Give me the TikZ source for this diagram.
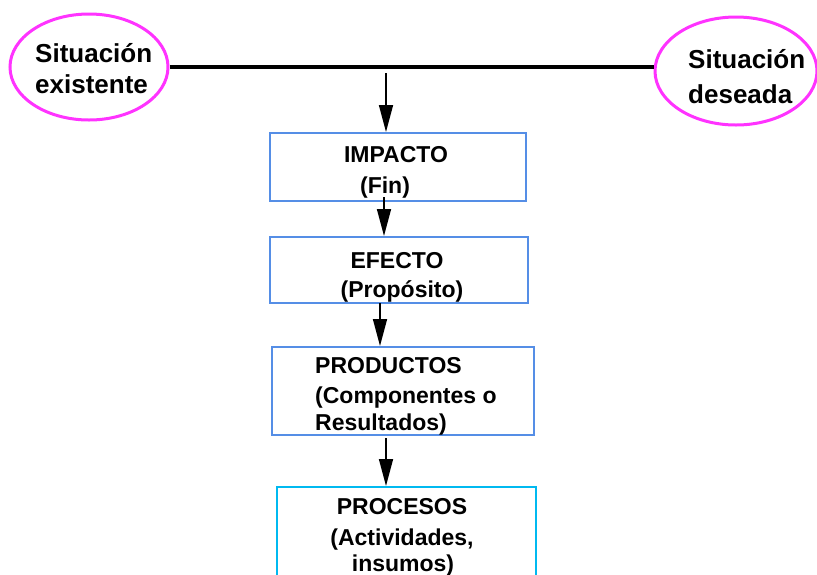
\documentclass[tikz,border=0pt]{standalone}
\usepackage{fontspec}
\setmainfont{Liberation Sans}
\usetikzlibrary{shapes.geometric,arrows.meta}
\definecolor{pinkline}{RGB}{255,51,255}
\definecolor{boxblue}{RGB}{85,142,230}
\definecolor{boxcyan}{RGB}{0,185,240}
\tikzset{
  ell/.style={ellipse, draw=pinkline, line width=3pt, inner sep=0pt},
  stepbox/.style={rectangle, draw=boxblue, line width=2pt, inner sep=0pt},
  txt/.style={inner sep=0pt, font=\bfseries\fontsize{23}{27}\selectfont},
  etxt/.style={inner sep=0pt, font=\bfseries\fontsize{26}{30}\selectfont},
  arr/.style={line width=1.6pt, -{Triangle[length=27pt,width=14pt]}},
}
\begin{document}
\begin{tikzpicture}[x=1pt,y=-1pt]
\useasboundingbox (0,0) rectangle (817,574);
% ellipses
\node[ell, minimum width=158pt, minimum height=106pt] (ex) at (89,67) {};
\node[ell, minimum width=162pt, minimum height=108pt] (ed) at (736,71) {};
\node[etxt, anchor=base west] (ex1) at (35,62) {Situación};
\node[etxt, anchor=base west] (ex2) at (35,93) {existente};
\node[etxt, anchor=base west] (ed1) at (688,68) {Situación};
\node[etxt, anchor=base west] (ed2) at (688,103) {deseada};
% main line
\draw[line width=4pt] (ex.east) -- (ex.east -| ed.west);
% boxes
\node[stepbox, minimum width=256pt, minimum height=68pt] (imp) at (398,167) {};
\node[stepbox, minimum width=258pt, minimum height=66pt] (efe) at (399,270) {};
\node[stepbox, minimum width=262pt, minimum height=88pt] (prod) at (403,391) {};
\node[stepbox, draw=boxcyan, minimum width=259pt, minimum height=110pt] (proc) at (406.5,542) {};
% texts
\node[txt, anchor=base] (t1) at (396,162) {IMPACTO};
\node[txt, anchor=base] (t2) at (385,193) {(Fin)};
\node[txt, anchor=base] (t3) at (397,268) {EFECTO};
\node[txt, anchor=base] (t4) at (402,297) {(Propósito)};
\node[txt, anchor=base west] (t5) at (315,373) {PRODUCTOS};
\node[txt, anchor=base west] (t6) at (315,403) {(Componentes o};
\node[txt, anchor=base west] (t7) at (315,430) {Resultados)};
\node[txt, anchor=base] (t8) at (402,514) {PROCESOS};
\node[txt, anchor=base] (t9) at (402,545) {(Actividades,};
\node[txt, anchor=base] (t10) at (403,571) {insumos)};
% arrows
\coordinate (a1) at (386,73);
\coordinate (c2) at (384,197);
\coordinate (c3) at (380,303);
\coordinate (c4) at (386,438);
\draw[arr] (a1) -- (a1 |- imp.north);
\draw[arr] (c2) -- (c2 |- efe.north);
\draw[arr] (c3) -- (c3 |- prod.north);
\draw[arr] (c4) -- (c4 |- proc.north);
\end{tikzpicture}
\end{document}
